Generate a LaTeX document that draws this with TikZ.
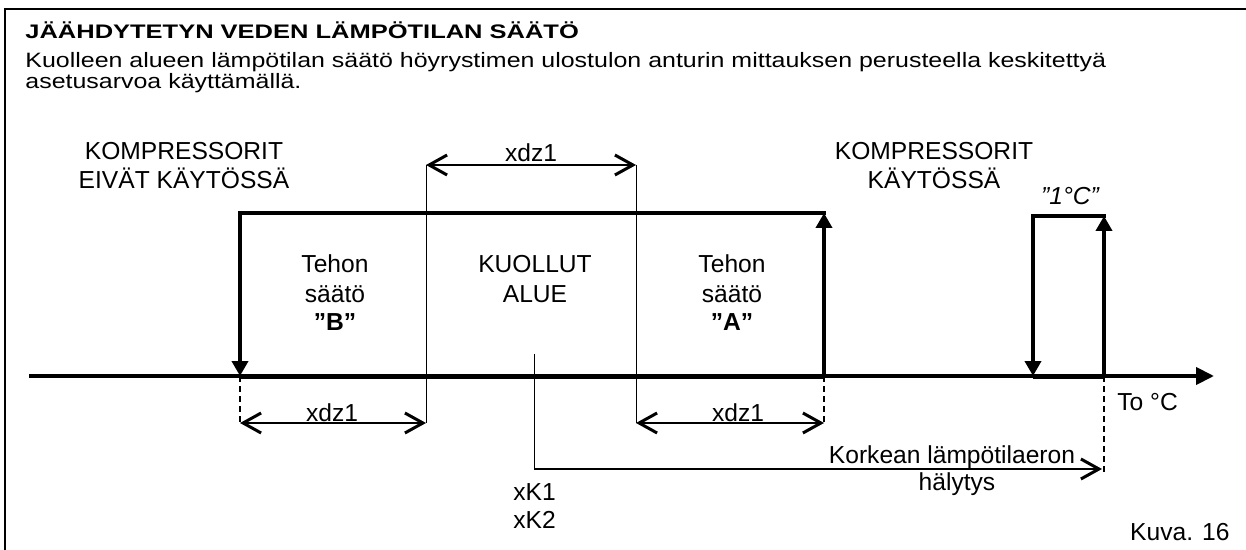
\documentclass[tikz,border=0pt]{standalone}
\usepackage{fontspec}
\setmainfont{Liberation Sans}
\newfontfamily\titlefont[FakeStretch=1.3]{Liberation Sans}
\newfontfamily\descfont[FakeStretch=1.2]{Liberation Sans}
\usetikzlibrary{arrows.meta}

\begin{document}
\begin{tikzpicture}[x=0.5pt,y=-0.5pt,
    heavy/.style={line width=2.2pt,line cap=rect},
    hyst/.style={line width=2.2pt,-{Triangle[length=7.5pt,width=8pt]}},
    guideline/.style={line width=0.5pt},
    dim/.style={line width=1.1pt,{Straight Barb[length=9pt,width=10pt,line width=1.5pt]}-{Straight Barb[length=9pt,width=10pt,line width=1.5pt]}},
    dashline/.style={line width=0.7pt,dash pattern=on 3pt off 2pt},
    lbl/.style={font=\fontsize{12.3}{14}\selectfont,anchor=base,inner sep=0pt},
    txt/.style={font=\descfont\fontsize{10.4}{12}\selectfont,anchor=base west,inner sep=0pt}]
    \useasboundingbox (0,0) rectangle (1246,550);
    % frame
    \draw[line width=0.7pt] (5,560) -- (5,9) -- (1250,9);
    % heading
    \node[txt,font=\titlefont\fontsize{9.8}{12}\selectfont\bfseries] (title) at (25,39) {JÄÄHDYTETYN VEDEN LÄMPÖTILAN SÄÄTÖ};
    \node[txt] (desc1) at (25,68) {Kuolleen alueen lämpötilan säätö höyrystimen ulostulon anturin mittauksen perusteella keskitettyä};
    \node[txt] (desc2) at (25,89) {asetusarvoa käyttämällä.};
    % points on the axis
    \coordinate (ax0) at (29,376);
    \coordinate (ax1) at (1214,376);
    \coordinate (bL) at (240,376);
    \coordinate (aR) at (824,376);
    \coordinate (bLtop) at (240,213);
    \coordinate (aRtop) at (824,213);
    \coordinate (cL) at (1033,376);
    \coordinate (cR) at (1104,376);
    \coordinate (cLtop) at (1033,216);
    \coordinate (cRtop) at (1104,216);
    % axis
    \draw[line width=2pt,-{Triangle[length=9pt,width=8.5pt]}] (ax0) -- (ax1);
    \node[lbl,anchor=base west] (temp) at (1117,410) {To~°C};
    % compressor steps
    \draw[line width=2.5pt] (bL) -- (aR);
    \draw[heavy] (bLtop) -- (aRtop);
    \draw[hyst] (aR) -- (aRtop);
    \draw[hyst] (bLtop) -- (bL);
    \draw[line width=2.5pt] (cL) -- (cR);
    \draw[heavy] (cLtop) -- (cRtop);
    \draw[hyst] (cR) -- (cRtop);
    \draw[hyst] (cLtop) -- (cL);
    \node[lbl,font=\fontsize{12.3}{14}\selectfont\itshape] (onedeg) at (1070,205) {”1°C”};
    % zone borders
    \coordinate (zB) at (426,165);
    \coordinate (zA) at (636,165);
    \coordinate (zBlow) at (426,423);
    \coordinate (zAlow) at (636,423);
    \draw[guideline] (zB) -- (zBlow);
    \draw[guideline] (zA) -- (zAlow);
    \draw[dim] (zB) -- (zA);
    \node[lbl] (dzTop) at (531,162) {xdz1};
    % lower dimensions
    \coordinate (bLlow) at (240,423);
    \coordinate (aRlow) at (824,423);
    \coordinate (cRlow) at (1104,472);
    \draw[dashline] (bL) -- (bLlow);
    \draw[dashline] (aR) -- (aRlow);
    \draw[dashline] (cR) -- (cRlow);
    \draw[dim] (bLlow) -- (zBlow);
    \draw[dim] (zAlow) -- (aRlow);
    \node[lbl] (dzB) at (332,421) {xdz1};
    \node[lbl] (dzA) at (738,421) {xdz1};
    % alarm
    \coordinate (setp) at (534,354);
    \coordinate (alarm0) at (534,469);
    \coordinate (alarm1) at (1102,469);
    \draw[guideline] (setp) -- (alarm0);
    \draw[line width=1.1pt,-{Straight Barb[length=9pt,width=10pt,line width=1.5pt]}] (alarm0) -- (alarm1);
    \node[lbl] (alarmA) at (952,463) {Korkean lämpötilaeron};
    \node[lbl] (alarmB) at (957,490) {hälytys};
    \node[lbl,anchor=base west] (xk1) at (513,500) {xK1};
    \node[lbl,anchor=base west] (xk2) at (513,528) {xK2};
    % zone texts
    \node[lbl] (offA) at (184,160) {KOMPRESSORIT};
    \node[lbl] (offB) at (184,189) {EIVÄT KÄYTÖSSÄ};
    \node[lbl] (onA) at (934,160) {KOMPRESSORIT};
    \node[lbl] (onB) at (934,189) {KÄYTÖSSÄ};
    \node[lbl] (stepB1) at (335,273) {Tehon};
    \node[lbl] (stepB2) at (335,303) {säätö};
    \node[lbl,font=\fontsize{12.3}{14}\selectfont\bfseries] (stepB3) at (335,330) {”B”};
    \node[lbl] (dead1) at (535,273) {KUOLLUT};
    \node[lbl] (dead2) at (535,303) {ALUE};
    \node[lbl] (stepA1) at (732,273) {Tehon};
    \node[lbl] (stepA2) at (732,303) {säätö};
    \node[lbl,font=\fontsize{12.3}{14}\selectfont\bfseries] (stepA3) at (732,330) {”A”};
    \node[lbl,anchor=base east] (fig) at (1230,540) {Kuva. 16};
\end{tikzpicture}
\end{document}
